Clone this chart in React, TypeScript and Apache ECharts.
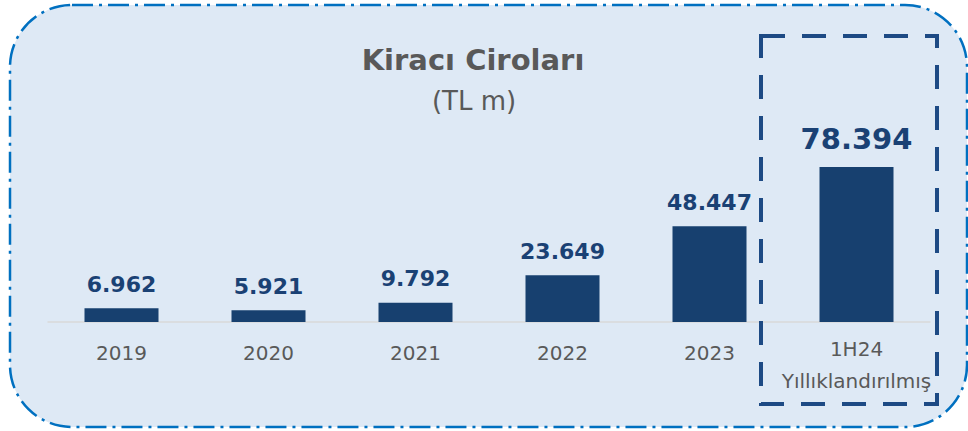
import React, { useEffect, useRef } from "react";
import * as echarts from "echarts";

const categories = ["2019", "2020", "2021", "2022", "2023", "1H24\nYıllıklandırılmış"];
const values = [6.962, 5.921, 9.792, 23.649, 48.447, 78.394];
const valueLabels = ["6.962", "5.921", "9.792", "23.649", "48.447", "78.394"];
const titleText = "Kiracı Ciroları";
const subtitleText = "(TL m)";

export default function App() {
  const ref = useRef<HTMLDivElement>(null);
  useEffect(() => {
    if (!ref.current) return;
    const chart = echarts.init(ref.current, null, { renderer: "svg" });
    const navy = "#17406f";
    const data = values.map((v, i) => {
      const last = i === values.length - 1;
      return {
        value: v,
        label: {
          show: true,
          position: "top",
          distance: last ? 14 : 13,
          formatter: () => valueLabels[i],
          fontFamily: "DejaVu Sans",
          fontWeight: "bold",
          fontSize: last ? 29 : 22,
          color: "#1a4174",
        },
      };
    });
    chart.setOption({
      animation: false,
      backgroundColor: "#ffffff",
      graphic: [
        {
          type: "rect",
          z: -10,
          shape: { x: 10, y: 5, width: 957, height: 422, r: 62 },
          style: {
            fill: "#dee9f5",
            stroke: "#0070c0",
            lineWidth: 2.5,
            lineDash: [21, 6, 3, 6],
          },
        },
        {
          type: "rect",
          z: 10,
          shape: { x: 761, y: 36, width: 176, height: 368 },
          style: {
            fill: "none",
            stroke: "#1d4a84",
            lineWidth: 4,
            lineDash: [24, 17],
          },
        },
        {
          type: "text",
          x: 473,
          y: 60,
          style: {
            text: titleText,
            textAlign: "center",
            textVerticalAlign: "middle",
            fontFamily: "DejaVu Sans",
            fontWeight: "bold",
            fontSize: 29,
            fill: "#595959",
          },
        },
        {
          type: "text",
          x: 474,
          y: 101,
          style: {
            text: subtitleText,
            textAlign: "center",
            textVerticalAlign: "middle",
            fontFamily: "DejaVu Sans",
            fontSize: 26,
            fill: "#595959",
          },
        },
      ],
      grid: { left: 48, right: 38, top: 124.3, bottom: 109 },
      xAxis: {
        type: "category",
        data: categories,
        axisLine: { show: true, lineStyle: { color: "#d9d9d9", width: 1.5 } },
        axisTick: { show: false },
        axisLabel: {
          margin: 15,
          fontFamily: "DejaVu Sans",
          fontSize: 20,
          lineHeight: 32,
          color: "#595959",
          interval: 0,
          formatter: (v: string) =>
            v.indexOf("\n") >= 0 ? v.split("\n").map((s) => "{m|" + s + "}").join("\n") : v,
          rich: {
            m: {
              fontFamily: "DejaVu Sans",
              fontSize: 20,
              lineHeight: 32,
              color: "#595959",
              padding: [0, 0, 8, 0],
            },
          },
        },
      },
      yAxis: {
        type: "value",
        min: 0,
        max: 100,
        show: false,
        splitLine: { show: false },
      },
      series: [
        {
          type: "bar",
          data,
          barWidth: 74,
          itemStyle: { color: navy },
        },
      ],
    });
    return () => chart.dispose();
  }, []);
  return (
    <div
      ref={ref}
      style={{ position: "absolute", left: 0, top: 0, width: 968, height: 431 }}
    />
  );
}
